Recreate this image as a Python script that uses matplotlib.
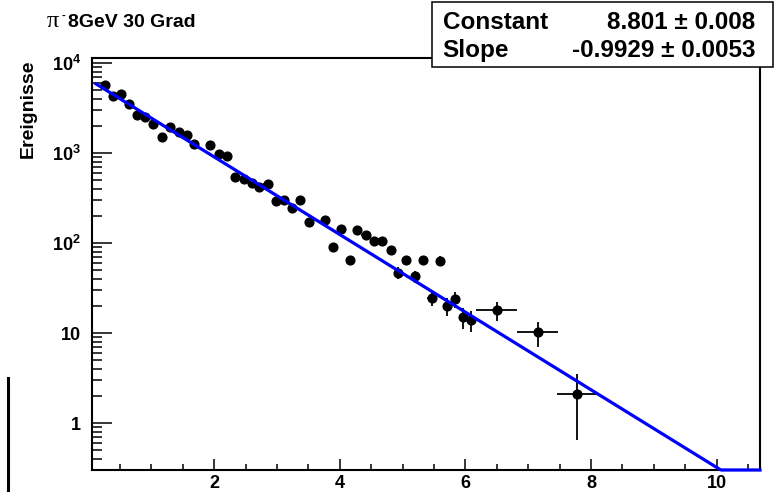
import numpy as np
import matplotlib
matplotlib.use('Agg')
import matplotlib.pyplot as plt
from matplotlib.patches import Rectangle
from matplotlib.lines import Line2D
from matplotlib.ticker import (FixedLocator, FixedFormatter, MultipleLocator,
                               NullFormatter, LogLocator, StrMethodFormatter)

plt.rcParams['font.family'] = ['Liberation Sans', 'DejaVu Sans']
plt.rcParams['font.weight'] = 'bold'
plt.rcParams['mathtext.fontset'] = 'custom'
plt.rcParams['mathtext.rm'] = 'Liberation Sans:bold'
plt.rcParams['mathtext.bf'] = 'Liberation Sans:bold'
plt.rcParams['mathtext.it'] = 'Liberation Sans:bold'

# ---------------- data ----------------
# narrow bins (bin width ~0.13)
x_narrow = [0.26, 0.39, 0.51, 0.64, 0.77, 0.90, 1.03, 1.17, 1.30, 1.44,
            1.56, 1.68, 1.94, 2.08, 2.21, 2.33, 2.47, 2.60, 2.72, 2.85,
            2.98, 3.11, 3.24, 3.37, 3.51, 3.77, 3.89, 4.02, 4.16, 4.28,
            4.41, 4.55, 4.67, 4.81, 4.93, 5.06, 5.20, 5.32, 5.46, 5.59,
            5.71, 5.84, 5.96, 6.09]
y_narrow = [5740, 4365, 4560, 3500, 2685, 2550, 2100, 1505, 1960, 1738,
            1597, 1268, 1227, 982, 933, 550, 514, 464, 426, 453,
            293, 303, 249, 303, 171, 181, 92, 144, 65, 142,
            123, 107, 107, 84, 47, 65, 43, 65, 25, 64,
            20, 24, 15, 14]
yerr_narrow = [75.8, 66, 67.5, 59, 52, 50.5, 46, 39, 44, 42,
               40, 36, 35, 31, 30.5, 23.5, 22.7, 21.5, 20.6, 21.3,
               17.1, 17.4, 15.8, 17.4, 13.1, 13.5, 9.6, 12, 8.1, 11.9,
               11.1, 10.3, 10.3, 9.2, 6.9, 8.1, 6.6, 8.1, 5.0, 8.0,
               4.5, 4.9, 3.9, 3.7]
xhalf_narrow = 0.065
# wide bins (bin width ~0.65)
x_wide = [6.50, 7.15, 7.78]
y_wide = [18, 10.3, 2.1]
yerr_wide = [4.2, 3.2, 1.45]
xhalf_wide = 0.325

# fit parameters (expo)
fit_const = 8.801
fit_const_err = 0.008
fit_slope = -0.9929
fit_slope_err = 0.0053
fit_xmin = 0.118

xlim = (0.05, 10.69)
ylim = (0.303, 11370)

# ---------------- figure ----------------
W, H = 775, 492
fig = plt.figure(figsize=(W / 100, H / 100), dpi=100)


def fx(px):
    return px / W


def fy(py):
    return 1 - py / H


ax = fig.add_axes([fx(91.7), fy(470), fx(760) - fx(91.7), fy(58.3) - fy(470)])

ax.errorbar(x_narrow, y_narrow, xerr=xhalf_narrow, yerr=yerr_narrow, fmt='o',
            color='black', ms=6.3, elinewidth=1.3, capsize=0, zorder=2)
ax.errorbar(x_wide, y_wide, xerr=xhalf_wide, yerr=yerr_wide, fmt='o',
            color='black', ms=6.3, elinewidth=1.3, capsize=0, zorder=2)

xf = np.linspace(fit_xmin, xlim[1], 500)
yf = np.maximum(np.exp(fit_const + fit_slope * xf), ylim[0])
ax.plot(xf, yf, color='#0000ff', lw=2.3, zorder=3, clip_on=False)

ax.set_yscale('log')
ax.set_xlim(*xlim)
ax.set_ylim(*ylim)

ax.yaxis.set_major_locator(FixedLocator([1, 10, 100, 1000, 10000]))
ax.yaxis.set_major_formatter(FixedFormatter(['1', '10', r'$10^{2}$', r'$10^{3}$', r'$10^{4}$']))
ax.yaxis.set_minor_locator(LogLocator(base=10, subs=range(2, 10), numticks=20))
ax.yaxis.set_minor_formatter(NullFormatter())
ax.xaxis.set_major_locator(MultipleLocator(2))
ax.xaxis.set_minor_locator(MultipleLocator(0.5))
ax.xaxis.set_major_formatter(StrMethodFormatter('{x:.0f}'))

for s in ax.spines.values():
    s.set_linewidth(1.5)

ax.tick_params(axis='x', which='major', direction='in', length=7.7, width=1.1,
               labelsize=13, pad=3.3, top=False)
ax.tick_params(axis='x', which='minor', direction='in', length=4.0, width=1.1, top=False)
ax.tick_params(axis='y', which='major', direction='in', length=14.4, width=1.1,
               labelsize=13, pad=7.8, right=False)
ax.tick_params(axis='y', which='minor', direction='in', length=7.2, width=1.1, right=False)
for lab in ax.get_xticklabels() + ax.get_yticklabels():
    lab.set_fontweight('bold')

# y-axis title
fig.text(fx(28), fy(60), 'Ereignisse', rotation=90, ha='center', va='top',
         fontsize=14, fontweight='bold')

# title
fig.text(fx(46.5), fy(26.7), 'π', ha='left', va='baseline', fontsize=17.5,
         family=['Liberation Serif', 'DejaVu Serif'], fontweight='normal')
fig.text(fx(61.5), fy(15.5), '-', ha='left', va='center', fontsize=8, fontweight='bold')
fig.text(fx(68.3), fy(26.7), '8GeV 30 Grad', ha='left', va='baseline',
         fontsize=14, fontweight='bold')

# stats box
fig.add_artist(Rectangle((fx(431.5), fy(67)), fx(773) - fx(431.5), fy(2) - fy(67),
                         transform=fig.transFigure, facecolor='white',
                         edgecolor='black', lw=1.1, zorder=5))
fig.text(fx(442.7), fy(29.3), 'Constant', ha='left', va='baseline',
         fontsize=17.5, fontweight='bold', zorder=6)
fig.text(fx(442.7), fy(56.7), 'Slope', ha='left', va='baseline',
         fontsize=17.5, fontweight='bold', zorder=6)
fig.text(fx(755), fy(29.3), f'{fit_const:.3f} ± {fit_const_err:.3f}', ha='right',
         va='baseline', fontsize=17.5, fontweight='bold', zorder=6)
fig.text(fx(755), fy(56.7), f'{fit_slope:.4f} ± {fit_slope_err:.4f}', ha='right',
         va='baseline', fontsize=17.5, fontweight='bold', zorder=6)

# stray pad edge at bottom-left
fig.add_artist(Line2D([fx(7.7), fx(7.7)], [fy(378), fy(492)], transform=fig.transFigure,
                      color='black', lw=2.2))

fig.savefig('out.png', dpi=100)
